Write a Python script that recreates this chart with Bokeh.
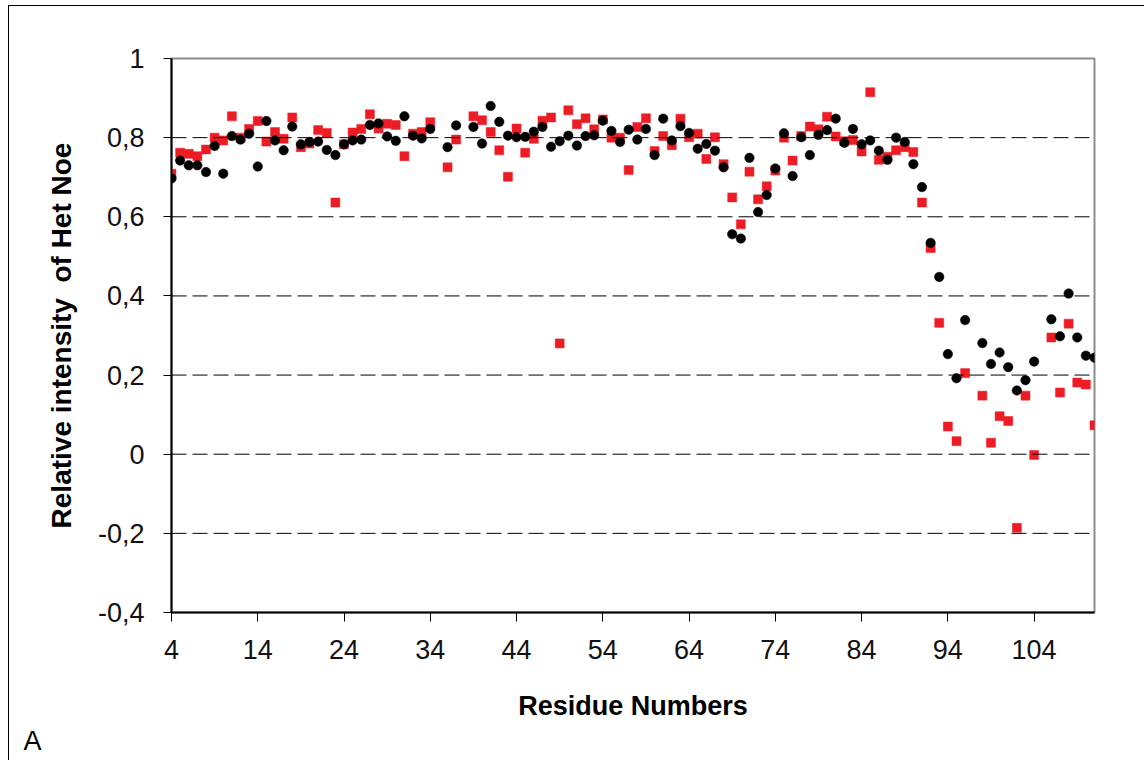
from bokeh.plotting import figure
from bokeh.models import Range1d, FixedTicker, CustomJSTickFormatter, Span, Title, ColumnDataSource
from bokeh.embed import file_html
from bokeh.resources import INLINE

# ---- data ----
residues = [4, 5, 6, 7, 8, 9, 10, 11, 12, 13, 14, 15, 16, 17, 18, 19, 20, 21, 22, 23,
            24, 25, 26, 27, 28, 29, 30, 31, 32, 33, 34, 36, 37, 39, 40, 41, 42, 43, 44,
            45, 46, 47, 48, 49, 50, 51, 52, 53, 54, 55, 56, 57, 58, 59, 60, 61, 62, 63,
            64, 65, 66, 67, 68, 69, 70, 71, 72, 73, 74, 75, 76, 77, 78, 79, 80, 81, 82,
            83, 84, 85, 86, 87, 88, 89, 90, 91, 92, 93, 94, 95, 96, 98, 99, 100, 101,
            102, 103, 104, 106, 107, 108, 109, 110, 111]

black_noe = [0.697, 0.742, 0.730, 0.730, 0.713, 0.779, 0.709, 0.804, 0.795, 0.810,
             0.727, 0.842, 0.793, 0.768, 0.828, 0.783, 0.789, 0.790, 0.769, 0.756,
             0.783, 0.793, 0.795, 0.832, 0.836, 0.803, 0.792, 0.854, 0.805, 0.798,
             0.822, 0.776, 0.831, 0.827, 0.785, 0.880, 0.840, 0.805, 0.801,
             0.802, 0.815, 0.827, 0.777, 0.791, 0.805, 0.780, 0.804, 0.806, 0.843,
             0.817, 0.789, 0.820, 0.795, 0.822, 0.756, 0.848, 0.793, 0.829,
             0.812, 0.772, 0.784, 0.767, 0.725, 0.556, 0.545, 0.749, 0.612, 0.655,
             0.722, 0.811, 0.703, 0.801, 0.756, 0.807, 0.819, 0.848, 0.787,
             0.822, 0.783, 0.793, 0.767, 0.744, 0.800, 0.789, 0.733, 0.675, 0.534,
             0.448, 0.253, 0.192, 0.339, 0.281, 0.228, 0.257, 0.220,
             0.161, 0.187, 0.234, 0.341, 0.298, 0.406, 0.295, 0.249, 0.244]

red_noe = [0.709, 0.762, 0.759, 0.753, 0.770, 0.800, 0.793, 0.854, 0.800, 0.822,
           0.842, 0.790, 0.814, 0.797, 0.851, 0.776, 0.785, 0.819, 0.812, 0.636,
           0.783, 0.813, 0.822, 0.859, 0.823, 0.835, 0.832, 0.753, 0.810, 0.814,
           0.839, 0.725, 0.795, 0.854, 0.844, 0.814, 0.768, 0.701, 0.823,
           0.762, 0.797, 0.843, 0.851, 0.280, 0.869, 0.834, 0.849, 0.821, 0.846,
           0.800, 0.800, 0.718, 0.827, 0.849, 0.766, 0.804, 0.781, 0.848,
           0.801, 0.810, 0.746, 0.801, 0.733, 0.649, 0.581, 0.714, 0.644, 0.677,
           0.717, 0.800, 0.742, 0.804, 0.828, 0.821, 0.853, 0.803, 0.791,
           0.794, 0.765, 0.915, 0.744, 0.752, 0.768, 0.776, 0.764, 0.636, 0.521,
           0.332, 0.070, 0.033, 0.205, 0.148, 0.029, 0.096, 0.084,
           -0.186, 0.148, -0.002, 0.295, 0.156, 0.330, 0.181, 0.176, 0.073]

x_ticks = [4, 14, 24, 34, 44, 54, 64, 74, 84, 94, 104]
y_ticks = [-0.4, -0.2, 0.0, 0.2, 0.4, 0.6, 0.8, 1.0]
grid_levels = [-0.2, 0.0, 0.2, 0.4, 0.6, 0.8]

FONT = "Liberation Sans"

W, H = 1136, 755
p = figure(width=W, height=H, output_backend="svg", toolbar_location=None,
           x_range=Range1d(4, 111), y_range=Range1d(-0.4, 1.0),
           min_border_left=162, min_border_right=W - 1085,
           min_border_top=52, min_border_bottom=H - 606)
p.styles = {"border-left": "1.5px solid black", "border-top": "1.5px solid black",
            "margin-left": "7.5px", "margin-top": "5px"}

p.xgrid.visible = False
p.ygrid.visible = False
p.outline_line_color = "#8c8c8c"
p.outline_line_width = 2
p.background_fill_color = "white"
p.border_fill_color = "white"

for lvl in grid_levels:
    p.add_layout(Span(location=lvl, dimension="width", line_color="black",
                      line_width=1, line_dash="15 6"))

src = ColumnDataSource(dict(x=residues, black=black_noe, red=red_noe))
p.scatter("x", "red", source=src, marker="square", size=9,
          fill_color="#ED1C24", line_color="#ED1C24", line_width=0.5)
p.scatter("x", "black", source=src, marker="circle", size=9.5,
          fill_color="black", line_color="black", line_width=0.5)

# axes
p.xaxis.ticker = FixedTicker(ticks=x_ticks)
p.yaxis.ticker = FixedTicker(ticks=y_ticks)
p.yaxis.formatter = CustomJSTickFormatter(
    code="var s = (Math.round(tick*10)/10).toString(); return s.replace('.', ',');")
for ax in (p.xaxis[0], p.yaxis[0]):
    ax.axis_line_color = "black"
    ax.axis_line_width = 2
    ax.major_tick_line_color = "black"
    ax.major_tick_line_width = 1
    ax.major_tick_in = 0
    ax.minor_tick_line_color = None
    ax.major_label_text_font = FONT
    ax.major_label_text_font_size = "27px"
    ax.major_label_text_color = "#111111"
    ax.axis_label_text_font = FONT
    ax.axis_label_text_font_style = "bold"
    ax.axis_label_text_color = "black"

p.xaxis.axis_label_text_font_size = "27px"
p.yaxis.axis_label_text_font_size = "28px"
p.xaxis.major_tick_out = 9
p.yaxis.major_tick_out = 8
p.xaxis.major_label_standoff = 18
p.yaxis.major_label_standoff = 19
p.xaxis.axis_label = "Residue Numbers"
p.yaxis.axis_label = "Relative intensity \u00a0of Het Noe"
p.xaxis.axis_label_standoff = 29
p.yaxis.axis_label_standoff = 18

p.add_layout(Title(text="A", align="left", offset=-148, standoff=0,
                   text_font=FONT, text_font_size="27px", text_font_style="normal",
                   text_color="black"), "below")

open("out.html", "w").write(file_html(p, INLINE))
